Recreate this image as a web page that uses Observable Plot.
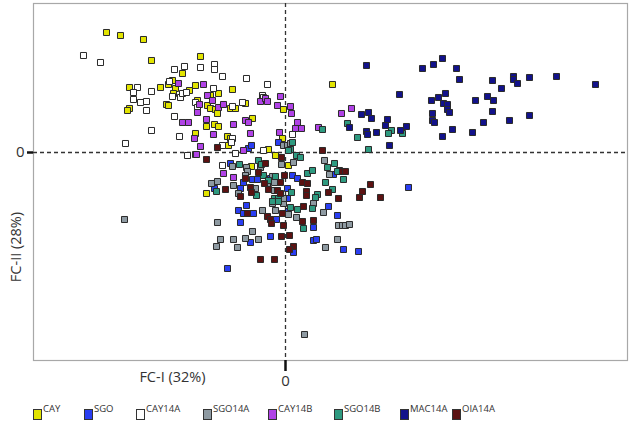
<!DOCTYPE html>
<html><head><meta charset="utf-8">
<script src="https://cdn.jsdelivr.net/npm/d3@7"></script>
<script src="https://cdn.jsdelivr.net/npm/@observablehq/plot@0.6"></script>
<style>
body{margin:0;background:#fff;font-family:"Open Sans",sans-serif;}
#wrap{position:relative;width:630px;height:425px;overflow:hidden;background:#fff}
#chart{position:absolute;left:0;top:0}
.leg{position:absolute;top:403px;height:20px;font-size:9.5px;color:#333;white-space:nowrap}
.leg i{position:absolute;left:0;top:6px;width:7px;height:9px;border:1px solid #333;box-sizing:content-box}
.leg span{position:absolute;left:10px;top:0;line-height:12px}
</style></head><body><div id="wrap"><div id="chart"></div></div>
<script>
// groups (legend order) and their colours
const groups = ["CAY","SGO","CAY14A","SGO14A","CAY14B","SGO14B","MAC14A","OIA14A"];
const groupColors = ["#e2e400","#2a3ef2","#ffffff","#8e9aa2","#b042e6","#2e9a80","#12128a","#5c1212"];

// factor scores [FC-I, FC-II] for each group
const CAY = [[-1.79,1.20],[-1.65,1.17],[-1.42,1.13],[-1.34,0.92],[-0.85,0.96],[-1.03,0.79],[-1.56,0.65],[-1.25,0.65],[-1.17,0.68],[-1.13,0.72],[-1.10,0.64],[-0.90,0.67],[-1.19,0.48],[-1.17,0.47],[-1.56,0.44],[-1.58,0.42],[-1.12,0.59],[-0.88,0.52],[-0.78,0.47],[-0.75,0.44],[-0.70,0.43],[-0.68,0.39],[-0.79,0.26],[-0.90,0.19],[-0.71,0.28],[-0.67,0.26],[-0.96,0.62],[-0.75,0.57],[-0.67,0.59],[-0.53,0.63],[-0.55,0.44],[-0.50,0.44],[-0.40,0.49],[-0.33,0.34],[-0.58,0.16],[-0.55,0.14],[-0.17,0.03],[-0.02,0.43],[-0.03,0.14],[-0.57,0.07],[0.47,0.68],[-0.10,-0.03],[-0.34,-0.14],[0.03,-0.13],[-0.79,-0.41]];
const SGO = [[-0.37,0.04],[-0.34,0.07],[-0.07,0.10],[-0.55,-0.11],[-0.25,-0.12],[-0.33,-0.27],[-0.28,-0.27],[-0.42,-0.30],[-0.15,-0.26],[0.07,-0.23],[0.12,-0.26],[0.02,-0.36],[0.02,-0.46],[-0.45,-0.36],[-0.71,-0.36],[-0.39,-0.53],[-0.47,-0.58],[-0.42,-0.61],[-0.32,-0.61],[-0.09,-0.67],[0.03,-0.59],[-0.45,-0.70],[-0.15,-0.84],[-0.35,-0.90],[0.28,-0.88],[0.31,-0.87],[0.08,-1.00],[0.28,-0.75],[0.43,-0.54],[0.52,-0.63],[0.48,-0.22],[0.58,-0.97],[0.73,-0.99],[1.23,-0.35],[-0.58,-1.16]];
const CAY14A = [[-2.02,0.97],[-1.85,0.90],[-1.11,0.83],[-1.01,0.86],[-0.85,0.85],[-0.71,0.88],[-0.71,0.83],[-0.63,0.76],[-0.39,0.74],[-1.48,0.65],[-1.52,0.60],[-1.52,0.53],[-1.45,0.50],[-1.39,0.51],[-1.34,0.61],[-1.16,0.71],[-1.13,0.56],[-1.05,0.55],[-1.03,0.59],[-0.99,0.60],[-0.90,0.50],[-0.88,0.45],[-1.39,0.42],[-1.11,0.36],[-1.34,0.22],[-1.06,0.16],[-1.60,0.09],[-0.98,-0.03],[-0.72,0.64],[-0.53,0.46],[-0.43,0.50],[-0.23,0.57],[-0.22,0.55],[-0.18,0.68],[-0.53,0.14],[-0.54,0.10],[-0.63,0.07],[-0.90,-0.02],[-0.50,-0.01],[-0.22,0.02],[0.07,0.18],[-0.63,-0.13]];
const SGO14A = [[-0.02,0.07],[0.02,0.07],[0.05,0.09],[0.08,-0.10],[-0.04,-0.12],[-0.53,-0.14],[-0.39,-0.15],[-0.38,-0.19],[-0.40,-0.23],[-0.25,-0.15],[-0.18,-0.31],[-0.13,-0.24],[-0.11,-0.30],[-0.52,-0.33],[-0.74,-0.31],[-0.68,-0.29],[-0.30,-0.36],[-0.11,-0.38],[-0.47,-0.41],[-0.02,-0.51],[0.28,-0.51],[-0.23,-0.58],[-0.10,-0.58],[-0.13,-0.51],[0.03,-0.62],[0.11,-0.65],[0.38,-0.60],[0.53,-0.73],[0.57,-0.73],[0.60,-0.73],[0.64,-0.72],[0.52,-0.87],[-0.33,-0.79],[-0.52,-0.87],[-0.40,-0.86],[-0.27,-0.87],[-0.48,-0.95],[-0.65,-0.87],[0.40,-0.95],[-0.69,-0.94],[-0.68,-0.70],[-1.61,-0.67],[0.19,-1.82],[0.39,-0.08],[0.44,-0.22],[0.54,-0.18],[-0.02,-0.46]];
const CAY14B = [[-1.07,0.69],[-0.82,0.68],[-0.78,0.57],[-0.73,0.52],[-0.86,0.48],[-0.88,0.40],[-1.03,0.30],[-0.97,0.30],[-0.79,0.33],[-0.72,0.18],[-0.91,0.14],[-0.85,0.06],[-0.89,-0.02],[-0.67,0.45],[-0.62,0.48],[-0.25,0.51],[-0.20,0.54],[-0.18,0.51],[-0.08,0.47],[-0.05,0.56],[0.05,0.46],[0.06,0.39],[-0.52,0.28],[-0.40,0.32],[-0.37,0.30],[0.12,0.30],[0.10,0.24],[-0.35,0.19],[-0.06,0.20],[-0.42,0.02],[0.56,0.39],[0.66,0.44],[0.33,0.25],[0.16,0.24],[-0.62,-0.21],[-0.52,-0.25]];
const SGO14B = [[0.05,0.03],[0.11,-0.03],[0.15,-0.05],[-0.27,-0.08],[-0.24,-0.12],[-0.46,-0.12],[-0.22,-0.23],[0.22,-0.21],[0.27,-0.18],[0.42,-0.15],[0.49,-0.11],[0.58,-0.27],[0.40,-0.30],[-0.10,-0.24],[-0.17,-0.28],[-0.29,-0.43],[-0.11,-0.46],[-0.07,-0.46],[-0.13,-0.49],[-0.07,-0.49],[0.06,-0.40],[0.32,-0.42],[0.30,-0.45],[0.47,-0.37],[0.27,-0.56],[0.12,-0.57],[0.05,-0.55],[0.18,-0.76],[-0.69,-0.39],[0.07,0.10],[0.03,0.02],[0.83,0.03],[0.37,0.23],[0.62,0.29],[0.72,0.15],[1.06,0.22],[1.03,0.19],[1.17,0.19],[0.52,-0.19]];
const MAC14A = [[0.81,0.87],[1.37,0.84],[1.48,0.88],[1.57,0.94],[1.71,0.84],[1.74,0.73],[2.07,0.72],[2.28,0.76],[2.28,0.73],[2.32,0.69],[2.44,0.75],[2.71,0.76],[3.10,0.68],[2.16,0.64],[1.14,0.58],[1.60,0.59],[1.53,0.55],[1.46,0.52],[1.58,0.49],[1.62,0.48],[1.62,0.43],[1.64,0.40],[1.90,0.52],[2.02,0.56],[2.08,0.52],[2.07,0.41],[2.44,0.37],[2.24,0.32],[1.98,0.30],[1.87,0.20],[1.67,0.23],[1.57,0.16],[1.47,0.39],[1.47,0.32],[1.49,0.30],[0.76,0.38],[0.83,0.40],[0.86,0.34],[0.64,0.25],[0.81,0.21],[0.82,0.18],[0.91,0.20],[1.02,0.33],[1.00,0.27],[1.15,0.22],[1.21,0.26],[1.04,0.07]];
const OIA14A = [[-0.68,0.05],[-0.79,-0.07],[-0.04,-0.05],[0.37,0.02],[-0.20,-0.11],[-0.27,-0.20],[-0.40,-0.26],[-0.21,-0.31],[-0.08,-0.38],[-0.60,-0.37],[-0.35,-0.35],[-0.34,-0.40],[-0.45,-0.44],[-0.17,-0.37],[-0.05,-0.30],[-0.01,-0.23],[0.17,-0.30],[0.22,-0.31],[0.21,-0.39],[0.21,-0.43],[0.43,-0.40],[0.53,-0.46],[0.57,-0.19],[0.60,-0.19],[0.85,-0.32],[0.77,-0.39],[0.74,-0.45],[0.95,-0.45],[-0.05,-0.41],[0.18,-0.54],[-0.38,-0.61],[-0.18,-0.64],[-0.15,-0.67],[-0.14,-0.71],[-0.03,-0.61],[0.17,-0.69],[0.28,-0.68],[-0.02,-0.73],[-0.04,-0.84],[0.04,-0.83],[0.08,-0.94],[0.04,-0.97],[-0.25,-1.07],[-0.11,-1.07]];

const axisLabels = {x: "FC-I (32%)", y: "FC-II (28%)"};
const xDomain = [-2.52, 3.42];
const yDomain = [-2.08, 1.49];

const series = {CAY, SGO, CAY14A, SGO14A, CAY14B, SGO14B, MAC14A, OIA14A};
const rows = groups.flatMap(g => series[g].map(([x, y]) => ({group: g, x, y})));

const font = '"Open Sans", sans-serif';
const chart = Plot.plot({
  width: 630,
  height: 395,
  marginLeft: 33,
  marginRight: 3,
  marginTop: 3,
  marginBottom: 35,
  style: {fontFamily: font, background: "#fff", color: "#333"},
  x: {domain: xDomain},
  y: {domain: yDomain},
  color: {domain: groups, range: groupColors},
  marks: [
    Plot.frame({stroke: "#a8a8a8", strokeWidth: 1.2}),
    Plot.ruleX([0], {stroke: "#333", strokeWidth: 1.3, strokeDasharray: "4,3"}),
    Plot.ruleY([0], {stroke: "#333", strokeWidth: 1.3, strokeDasharray: "4,3"}),
    Plot.axisX({ticks: [0], tickSize: 11, tickPadding: 4, strokeWidth: 2.5, stroke: "#111", fontSize: 15, tickFormat: () => "0", label: null}),
    Plot.axisY({ticks: [0], tickSize: 6, tickPadding: 3, strokeWidth: 2.5, stroke: "#111", fontSize: 15, tickFormat: () => "0", label: null}),
    Plot.text([axisLabels.x], {frameAnchor: "bottom-left", dx: 139, dy: 21, text: d => d, fontSize: 14.5, fill: "#333", textAnchor: "middle"}),
    Plot.text([axisLabels.y], {frameAnchor: "left", dx: -17, dy: 65, rotate: -90, text: d => d, fontSize: 14.5, fill: "#333", textAnchor: "middle"}),
    Plot.dot(rows, {x: "x", y: "y", fill: "group", symbol: "square", r: 3.4, stroke: "#2b2b2b", strokeWidth: 1})
  ]
});
document.getElementById("chart").appendChild(chart);

// legend below the chart
const legendLeft = [33, 84, 136, 203, 268, 334, 400, 452];
const wrap = document.getElementById("wrap");
groups.forEach((g, i) => {
  const d = document.createElement("div");
  d.className = "leg";
  d.style.left = legendLeft[i] + "px";
  const sw = document.createElement("i");
  sw.style.background = groupColors[i];
  const t = document.createElement("span");
  t.textContent = g;
  d.appendChild(sw); d.appendChild(t);
  wrap.appendChild(d);
});
</script>
</body></html>
